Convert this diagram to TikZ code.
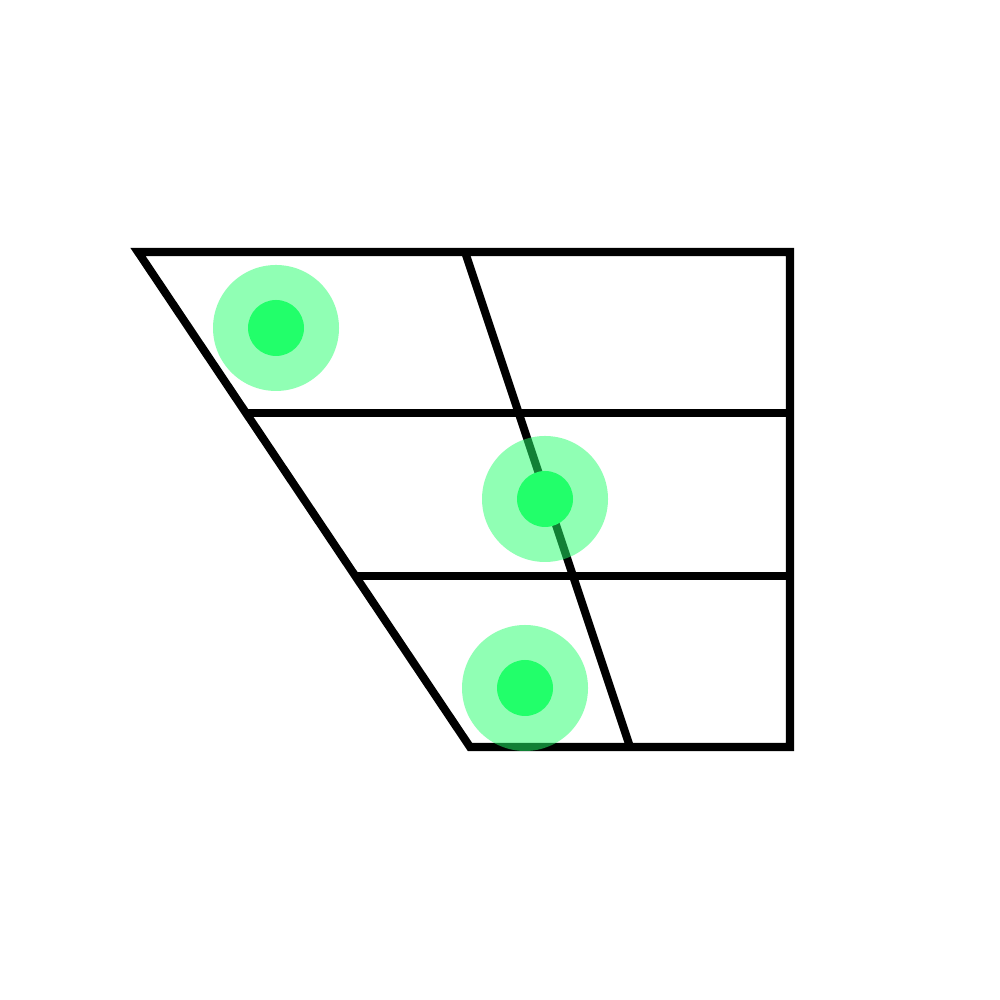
\documentclass[tikz,border=0pt]{standalone}
\usetikzlibrary{calc}
\definecolor{vowelgreen}{HTML}{22FF6A}

\begin{document}
\begin{tikzpicture}
    \useasboundingbox (0,0) rectangle (10,10);

    % corners of the chart
    \coordinate (tl) at (1.38,7.48);
    \coordinate (tr) at (7.90,7.48);
    \coordinate (br) at (7.90,2.53);
    \coordinate (bl) at (4.70,2.53);
    \coordinate (mt) at (4.65,7.48);
    \coordinate (mb) at (6.30,2.53);
    \coordinate (l1) at ($(tl)!0.325!(bl)$);
    \coordinate (l2) at ($(tl)!0.6545!(bl)$);
    \coordinate (r1) at (br |- l1);
    \coordinate (r2) at (br |- l2);

    \begin{scope}[line width=2.3pt, line join=miter]
      \draw (tl) -- (tr) -- (br) -- (bl) -- cycle;
      \draw (mt) -- (mb);
      \draw (l1) -- (r1);
      \draw (l2) -- (r2);
    \end{scope}

    \begin{scope}[every node/.style={circle,inner sep=0pt,fill=vowelgreen},
        halo/.style={fill opacity=0.5,minimum size=1.26cm},
        dot/.style={minimum size=0.56cm}]
      \node[halo] (i) at (2.76,6.72) {};
      \node[dot] at (i) {};
      \node[halo] (e) at (5.45,5.01) {};
      \node[dot] at (e) {};
      \node[halo] (a) at (5.25,3.12) {};
      \node[dot] at (a) {};
    \end{scope}
\end{tikzpicture}
\end{document}
